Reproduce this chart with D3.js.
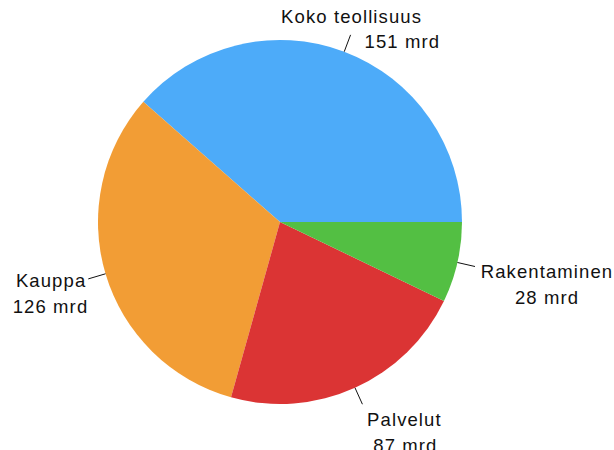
<!DOCTYPE html>
<html>
<head>
<meta charset="utf-8">
<script src="https://cdn.jsdelivr.net/npm/d3@7"></script>
<style>
  body { margin: 0; background: #fff; }
  text { font-family: "Liberation Sans", Arial, sans-serif; font-size: 18.5px; fill: #111; letter-spacing: 1.1px; }
</style>
</head>
<body>
<div id="chart"></div>
<script>
// data
var categories = ["Koko teollisuus", "Kauppa", "Palvelut", "Rakentaminen"];
var values = [151, 126, 87, 28];
var valueLabels = ["151 mrd", "126 mrd", "87 mrd", "28 mrd"];
var colors = ["#4dabf9", "#f29d35", "#db3434", "#53bf43"];

var width = 614, height = 450;
var cx = 280, cy = 222, radius = 182, leaderOuter = 200;

// label placement relative to the end of the leader line
var labelLayout = [
    {l1: [1, -12, "middle"], l2: [14, 13, "start"]},
    {l1: [-2, 8, "end"], l2: [0, 34, "end"]},
    {l1: [42, 22, "middle"], l2: [43, 48, "middle"]},
    {l1: [72, 11, "middle"], l2: [72, 37, "middle"]}
];

var data = categories.map(function(c, i) {
    return {label: c, value: values[i], text: valueLabels[i], color: colors[i], layout: labelLayout[i]};
});

var svg = d3.select("#chart")
    .append("svg")
    .attr("width", width)
    .attr("height", height);

var g = svg.append("g")
    .attr("transform", "translate(" + cx + "," + cy + ")");

// start at 3 o'clock, go counter-clockwise
var pie = d3.pie()
    .sort(null)
    .value(function(d) { return d.value; })
    .startAngle(Math.PI / 2)
    .endAngle(Math.PI / 2 - 2 * Math.PI);

var arc = d3.arc().innerRadius(0).outerRadius(radius);
var arcs = pie(data);

g.selectAll("path.slice")
    .data(arcs)
    .enter()
    .append("path")
    .attr("class", "slice")
    .attr("d", arc)
    .attr("fill", function(d) { return d.data.color; });

function pointAt(d, r) {
    var a = (d.startAngle + d.endAngle) / 2;
    return [Math.sin(a) * r, -Math.cos(a) * r];
}

g.selectAll("line.leader")
    .data(arcs)
    .enter()
    .append("line")
    .attr("class", "leader")
    .attr("x1", function(d) { return pointAt(d, radius)[0]; })
    .attr("y1", function(d) { return pointAt(d, radius)[1]; })
    .attr("x2", function(d) { return pointAt(d, leaderOuter)[0]; })
    .attr("y2", function(d) { return pointAt(d, leaderOuter)[1]; })
    .attr("stroke", "#111")
    .attr("stroke-width", 1);

arcs.forEach(function(d) {
    var p = pointAt(d, leaderOuter);
    var lay = d.data.layout;
    g.append("text")
        .attr("x", p[0] + lay.l1[0])
        .attr("y", p[1] + lay.l1[1])
        .attr("text-anchor", lay.l1[2])
        .text(d.data.label);
    g.append("text")
        .attr("x", p[0] + lay.l2[0])
        .attr("y", p[1] + lay.l2[1])
        .attr("text-anchor", lay.l2[2])
        .text(d.data.text);
});
</script>
</body>
</html>
